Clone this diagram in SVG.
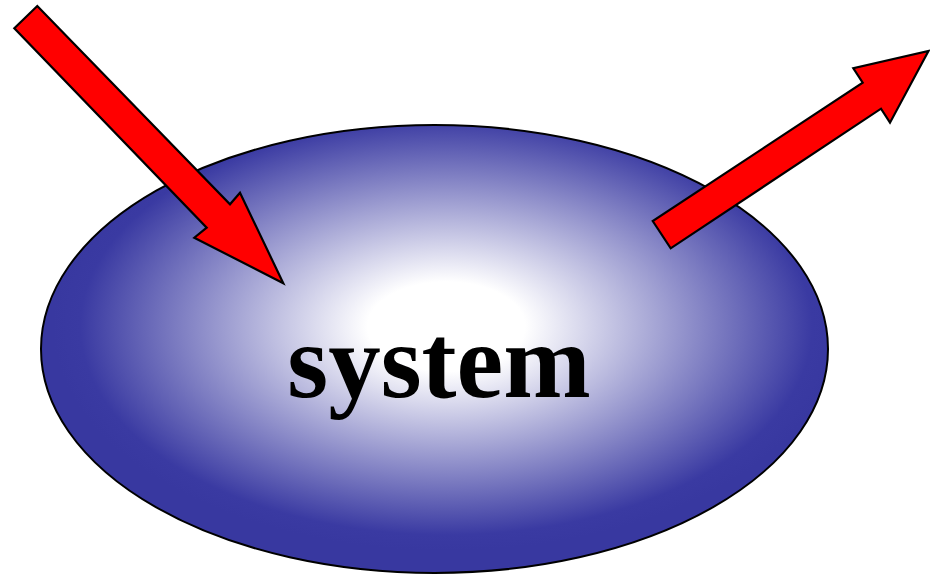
<svg xmlns="http://www.w3.org/2000/svg" width="930" height="575" viewBox="0 0 930 575">
<defs>
<radialGradient id="g" cx="0.515" cy="0.45" r="0.5">
<stop offset="0" stop-color="#ffffff"/>
<stop offset="0.2" stop-color="#ffffff"/>
<stop offset="0.93" stop-color="#3a3aa2"/>
<stop offset="1" stop-color="#3838a0"/>
</radialGradient>
</defs>
<style>
.arrow{fill:#ff0000;stroke:#000;stroke-width:2.2;stroke-linejoin:miter}
.lbl{font-family:"Liberation Serif",serif;font-weight:bold;font-size:105px;fill:#000}
</style>
<rect width="930" height="575" fill="#fff"/>
<g id="system">
<ellipse cx="434.5" cy="349" rx="393.5" ry="224" fill="url(#g)" stroke="#000" stroke-width="2"/>
<text class="lbl" x="439" y="397" text-anchor="middle">system</text>
</g>
<g id="connectors">
<polygon class="arrow" points="14.3,28.3 37.3,6 230,204.3 240,192.7 283.3,283.3 194.3,237.7 206.7,227.7"/>
<polygon class="arrow" points="652.7,221 670.7,248.3 881,108.7 890,122.7 928.5,51 853.3,68.3 862.7,82.7"/>
</g>
</svg>
